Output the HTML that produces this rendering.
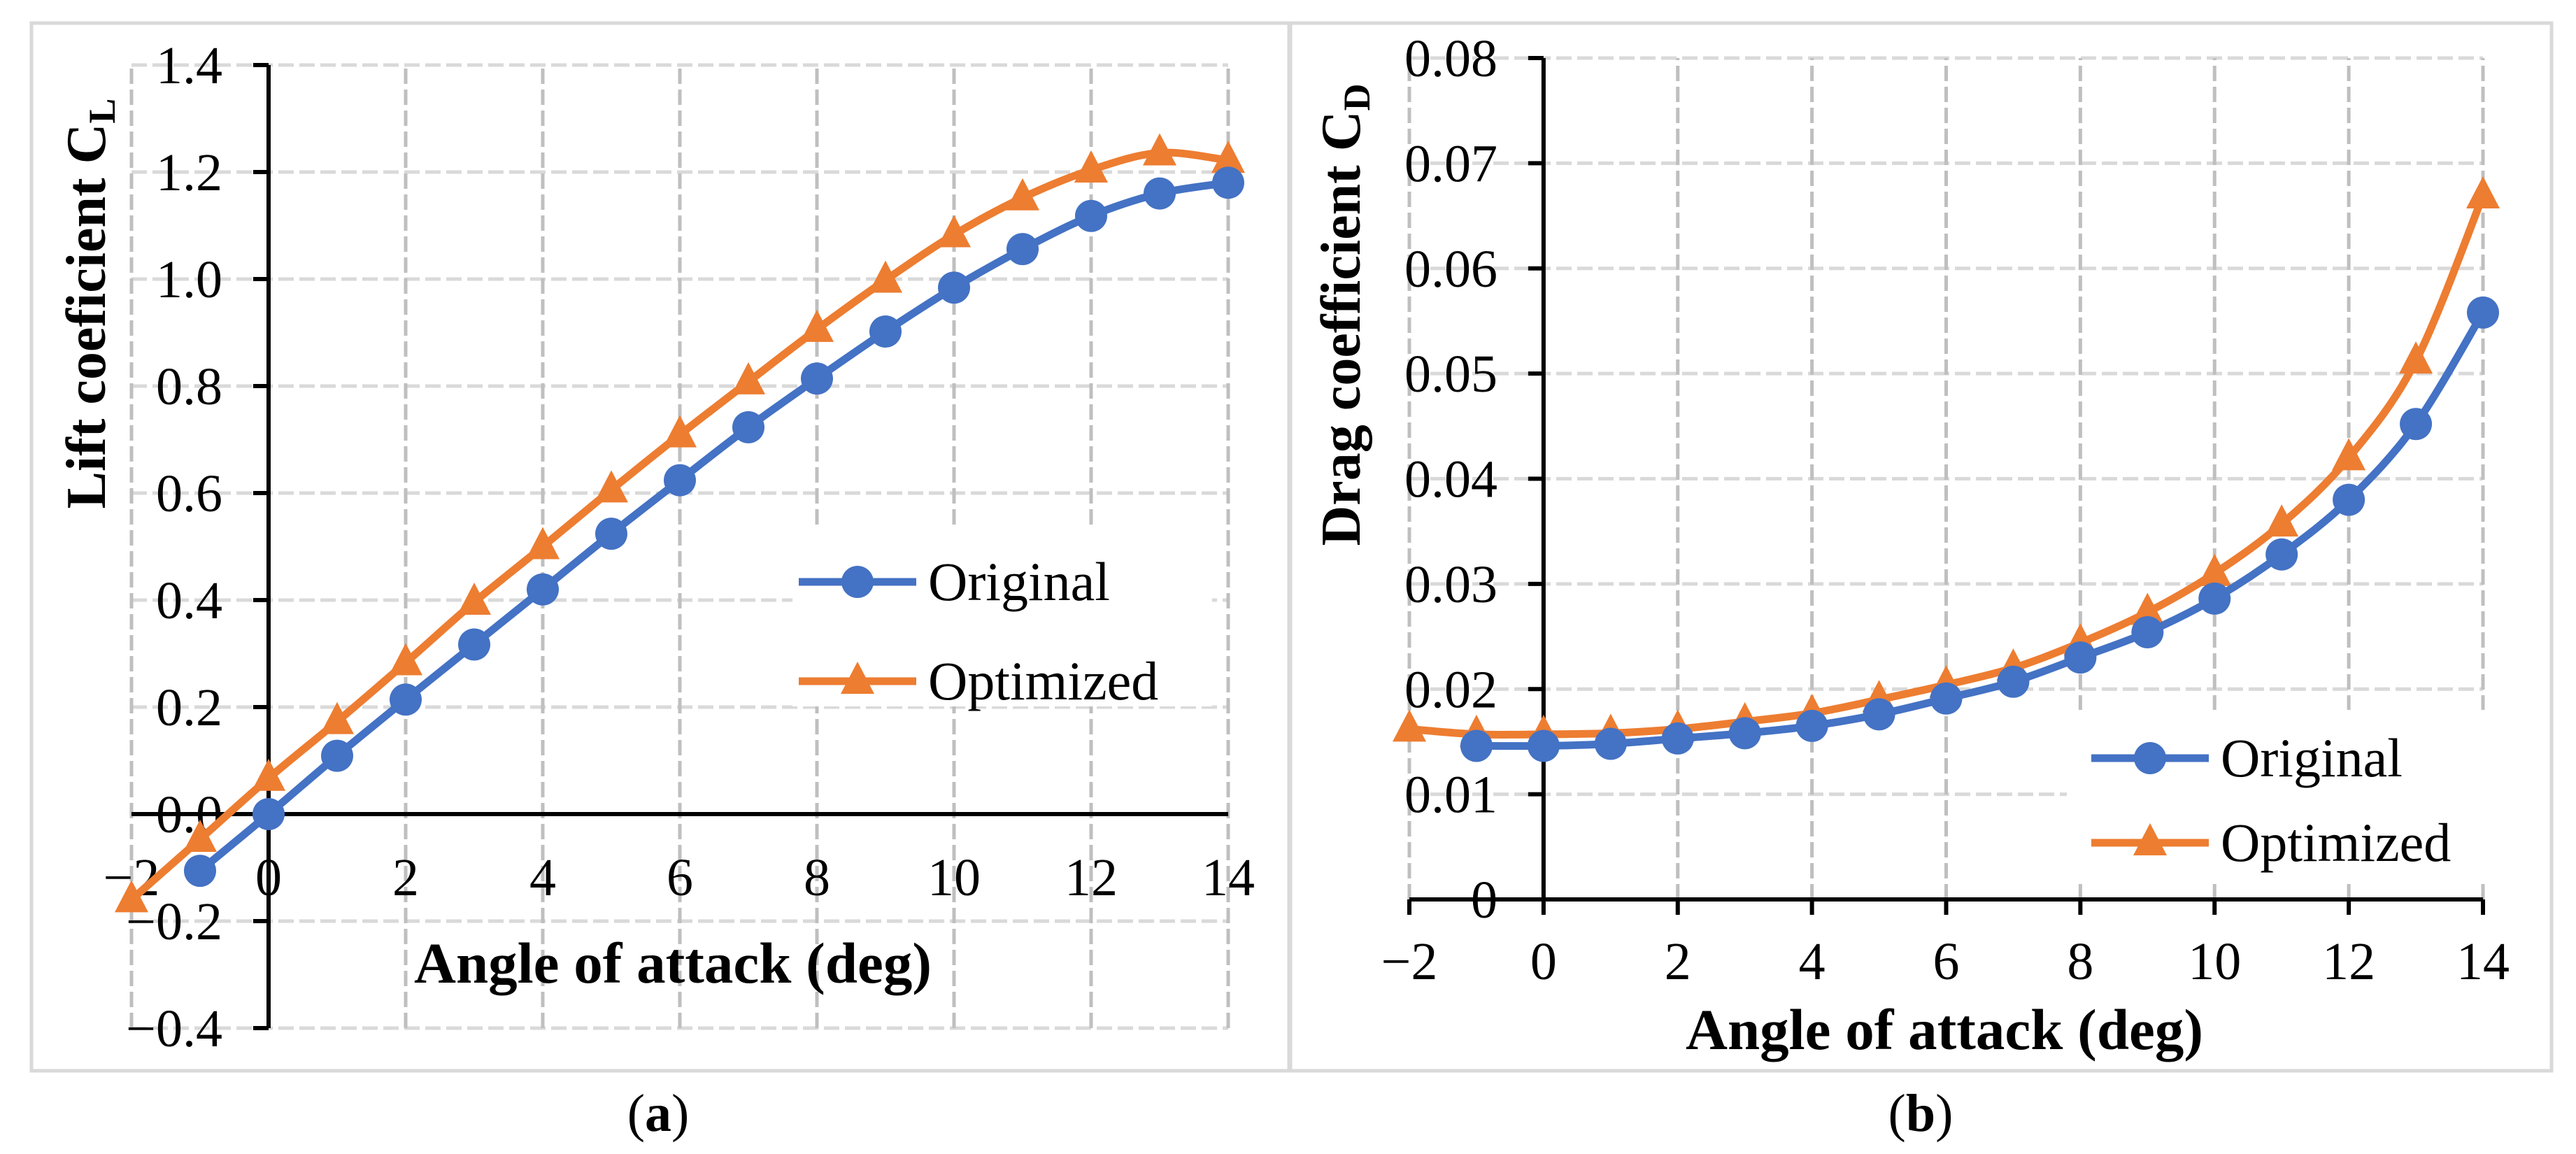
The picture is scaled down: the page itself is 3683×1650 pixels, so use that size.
<!DOCTYPE html>
<html><head><meta charset="utf-8"><style>
html,body{margin:0;padding:0;background:#fff;}
svg{display:block;font-family:"Liberation Serif",serif;}
</style></head><body>
<svg id="fig" width="3683" height="1650" viewBox="0 0 3683 1650" xmlns="http://www.w3.org/2000/svg">
<rect x="0" y="0" width="3683" height="1650" fill="#fff"/>
<rect x="45" y="33" width="1798" height="1498" fill="none" stroke="#d9d9d9" stroke-width="5"/>
<rect x="1845" y="33" width="1803" height="1498" fill="none" stroke="#d9d9d9" stroke-width="5"/>
<g id="ca"></g>
<g id="cb"></g>
<text x="941" y="1617" font-size="76" text-anchor="middle">(<tspan font-weight="bold">a</tspan>)</text>
<text x="2746" y="1617" font-size="76" text-anchor="middle">(<tspan font-weight="bold">b</tspan>)</text>
</svg>
<script>
// ---- data: lift chart (a)
const liftOrigX = [-1,0,1,2,3,4,5,6,7,8,9,10,11,12,13,14];
const liftOrigY = [-0.106,0,0.109,0.214,0.317,0.42,0.524,0.624,0.723,0.814,0.902,0.984,1.056,1.118,1.16,1.18];
const liftOptX = [-2,-1,0,1,2,3,4,5,6,7,8,9,10,11,12,13,14];
const liftOptY = [-0.16,-0.047,0.067,0.173,0.283,0.396,0.5,0.606,0.709,0.808,0.906,0.998,1.083,1.152,1.204,1.236,1.222];
const liftYTicks = [-0.4,-0.2,0,0.2,0.4,0.6,0.8,1.0,1.2,1.4];
const liftYLabels = ["\u22120.4","\u22120.2","0.0","0.2","0.4","0.6","0.8","1.0","1.2","1.4"];
// ---- data: drag chart (b)
const dragOrigX = [-1,0,1,2,3,4,5,6,7,8,9,10,11,12,13,14];
const dragOrigY = [0.0146,0.0146,0.0148,0.0153,0.0158,0.0165,0.0176,0.0191,0.0207,0.023,0.0254,0.0286,0.0328,0.038,0.0452,0.0558];
const dragOptX = [-2,-1,0,1,2,3,4,5,6,7,8,9,10,11,12,13,14];
const dragOptY = [0.0162,0.0157,0.0157,0.0158,0.0162,0.0169,0.0177,0.019,0.0204,0.022,0.0244,0.0273,0.031,0.0357,0.042,0.0512,0.0669];
const dragYTicks = [0,0.01,0.02,0.03,0.04,0.05,0.06,0.07,0.08];
const dragYLabels = ["0","0.01","0.02","0.03","0.04","0.05","0.06","0.07","0.08"];
const xTicks = [-2,0,2,4,6,8,10,12,14];
const xLabels = ["\u22122","0","2","4","6","8","10","12","14"];

const NS="http://www.w3.org/2000/svg";
function mk(p,tag,attrs){const e=document.createElementNS(NS,tag);for(const k in attrs)e.setAttribute(k,attrs[k]);p.appendChild(e);return e;}
function smooth(pts){let d="M"+pts[0][0]+","+pts[0][1];for(let i=0;i<pts.length-1;i++){const p0=pts[Math.max(0,i-1)],p1=pts[i],p2=pts[i+1],p3=pts[Math.min(pts.length-1,i+2)];const t=6;d+=" C"+(p1[0]+(p2[0]-p0[0])/t)+","+(p1[1]+(p2[1]-p0[1])/t)+" "+(p2[0]-(p3[0]-p1[0])/t)+","+(p2[1]-(p3[1]-p1[1])/t)+" "+p2[0]+","+p2[1];}return d;}

function chart(g,cfg){
  const sx=v=>cfg.x0+(v+2)*(cfg.x1-cfg.x0)/16;
  const sy=v=>cfg.yb+(v-cfg.ymin)*(cfg.yt-cfg.yb)/(cfg.ymax-cfg.ymin);
  cfg.yTicks.forEach((t,i)=>{
    const l=mk(g,'line',{x1:sx(-2),x2:sx(14),y1:sy(t),y2:sy(t),stroke:'#d9d9d9','stroke-width':5,'stroke-dasharray':'22 8'});
    
    
  });
  xTicks.forEach(t=>{
    const l=mk(g,'line',{x1:sx(t),x2:sx(t),y1:sy(cfg.ymin),y2:sy(cfg.ymax),stroke:'#bfbfbf','stroke-width':5,'stroke-dasharray':'22 8'});
    
    
  });
  const lb=mk(g,'rect',{x:cfg.leg[0],y:cfg.leg[1],width:cfg.leg[2],height:cfg.leg[3],fill:'#fff'});
  
  
  const ya=mk(g,'line',{x1:sx(0),x2:sx(0),y1:sy(cfg.ymin),y2:sy(cfg.ymax),stroke:'#000','stroke-width':6});
  
  
  cfg.yTicks.forEach((t,i)=>{
    const tk=mk(g,'line',{x1:sx(0)-22,x2:sx(0),y1:sy(t),y2:sy(t),stroke:'#000','stroke-width':6});
    
    
    const tx=mk(g,'text',{x:cfg.ylabX,y:sy(t)+26,'font-size':76,'text-anchor':'end'});
    tx.textContent=cfg.yLabels[i];
    
    
  });
  const xa=mk(g,'line',{x1:sx(-2),x2:sx(14),y1:sy(cfg.xAxisAt),y2:sy(cfg.xAxisAt),stroke:'#000','stroke-width':6});
  
  
  xTicks.forEach((t,i)=>{
    if(cfg.xTickMarks){
      const tk=mk(g,'line',{x1:sx(t),x2:sx(t),y1:sy(cfg.xAxisAt),y2:sy(cfg.xAxisAt)+22,stroke:'#000','stroke-width':6});
      
      
    }
    const tx=mk(g,'text',{x:sx(t),y:cfg.xlabY,'font-size':76,'text-anchor':'middle'});
    tx.textContent=xLabels[i];
    
    
  });
  const series=[[cfg.optX,cfg.optY,'#ed7d31','tri','optimized'],[cfg.origX,cfg.origY,'#4472c4','circ','original']];
  series.forEach(s=>{
    const pts=s[0].map((x,i)=>[sx(x),sy(s[1][i])]);
    const p=mk(g,'path',{d:smooth(pts),fill:'none',stroke:s[2],'stroke-width':11,'stroke-linejoin':'round'});
    
    
    pts.forEach(q=>{
      let m;
      if(s[3]==='circ') m=mk(g,'circle',{cx:q[0],cy:q[1],r:23,fill:s[2]});
      else m=mk(g,'polygon',{points:(q[0])+','+(q[1]-28)+' '+(q[0]+24)+','+(q[1]+18)+' '+(q[0]-24)+','+(q[1]+18),fill:s[2]});
      
      
    });
  });
  const L=cfg.legItems;
  [['Original','#4472c4','circ',L[1]],['Optimized','#ed7d31','tri',L[2]]].forEach(e=>{
    const gg=mk(g,'g',{});
    
    
    mk(gg,'line',{x1:L[0],x2:L[0]+168,y1:e[3],y2:e[3],stroke:e[1],'stroke-width':11});
    const cx=L[0]+84;
    if(e[2]==='circ') mk(gg,'circle',{cx:cx,cy:e[3],r:23,fill:e[1]});
    else mk(gg,'polygon',{points:cx+','+(e[3]-28)+' '+(cx+24)+','+(e[3]+18)+' '+(cx-24)+','+(e[3]+18),fill:e[1]});
    const t=mk(gg,'text',{x:L[0]+185,y:e[3]+26,'font-size':78});
    t.textContent=e[0];
  });
  const xt=mk(g,'text',{x:cfg.xTitle[0],y:cfg.xTitle[1],'font-size':83,'font-weight':'bold','text-anchor':'middle'});
  xt.textContent='Angle of attack (deg)';
  
  
  const yt=mk(g,'text',{transform:'translate('+cfg.yTitle[0]+','+cfg.yTitle[1]+') rotate(-90)','font-size':80,'font-weight':'bold','text-anchor':'middle'});
  yt.textContent=cfg.yTitleText+' C';
  const sub=mk(yt,'tspan',{'font-size':54,dy:14});
  sub.textContent=cfg.sub;
  
  
}

chart(document.getElementById('ca'),{
  x0:188,x1:1756,yb:1470,yt:93,ymin:-0.4,ymax:1.4,xAxisAt:0,
  yTicks:liftYTicks,yLabels:liftYLabels,ylabX:318,xlabY:1280,xTickMarks:false,
  origX:liftOrigX,origY:liftOrigY,optX:liftOptX,optY:liftOptY,
  leg:[1133,758,600,252],legItems:[1142,832,974],
  xTitle:[962,1405],yTitle:[150,434],yTitleText:'Lift coeficient',sub:'L'
});
chart(document.getElementById('cb'),{
  x0:2015,x1:3550,yb:1286,yt:83,ymin:0,ymax:0.08,xAxisAt:0,
  yTicks:dragYTicks,yLabels:dragYLabels,ylabX:2141,xlabY:1400,xTickMarks:true,
  origX:dragOrigX,origY:dragOrigY,optX:dragOptX,optY:dragOptY,
  leg:[2955,1015,600,245],legItems:[2990,1084,1205],
  xTitle:[2780,1500],yTitle:[1944,450],yTitleText:'Drag coefficient',sub:'D'
});
</script>
</body></html>
